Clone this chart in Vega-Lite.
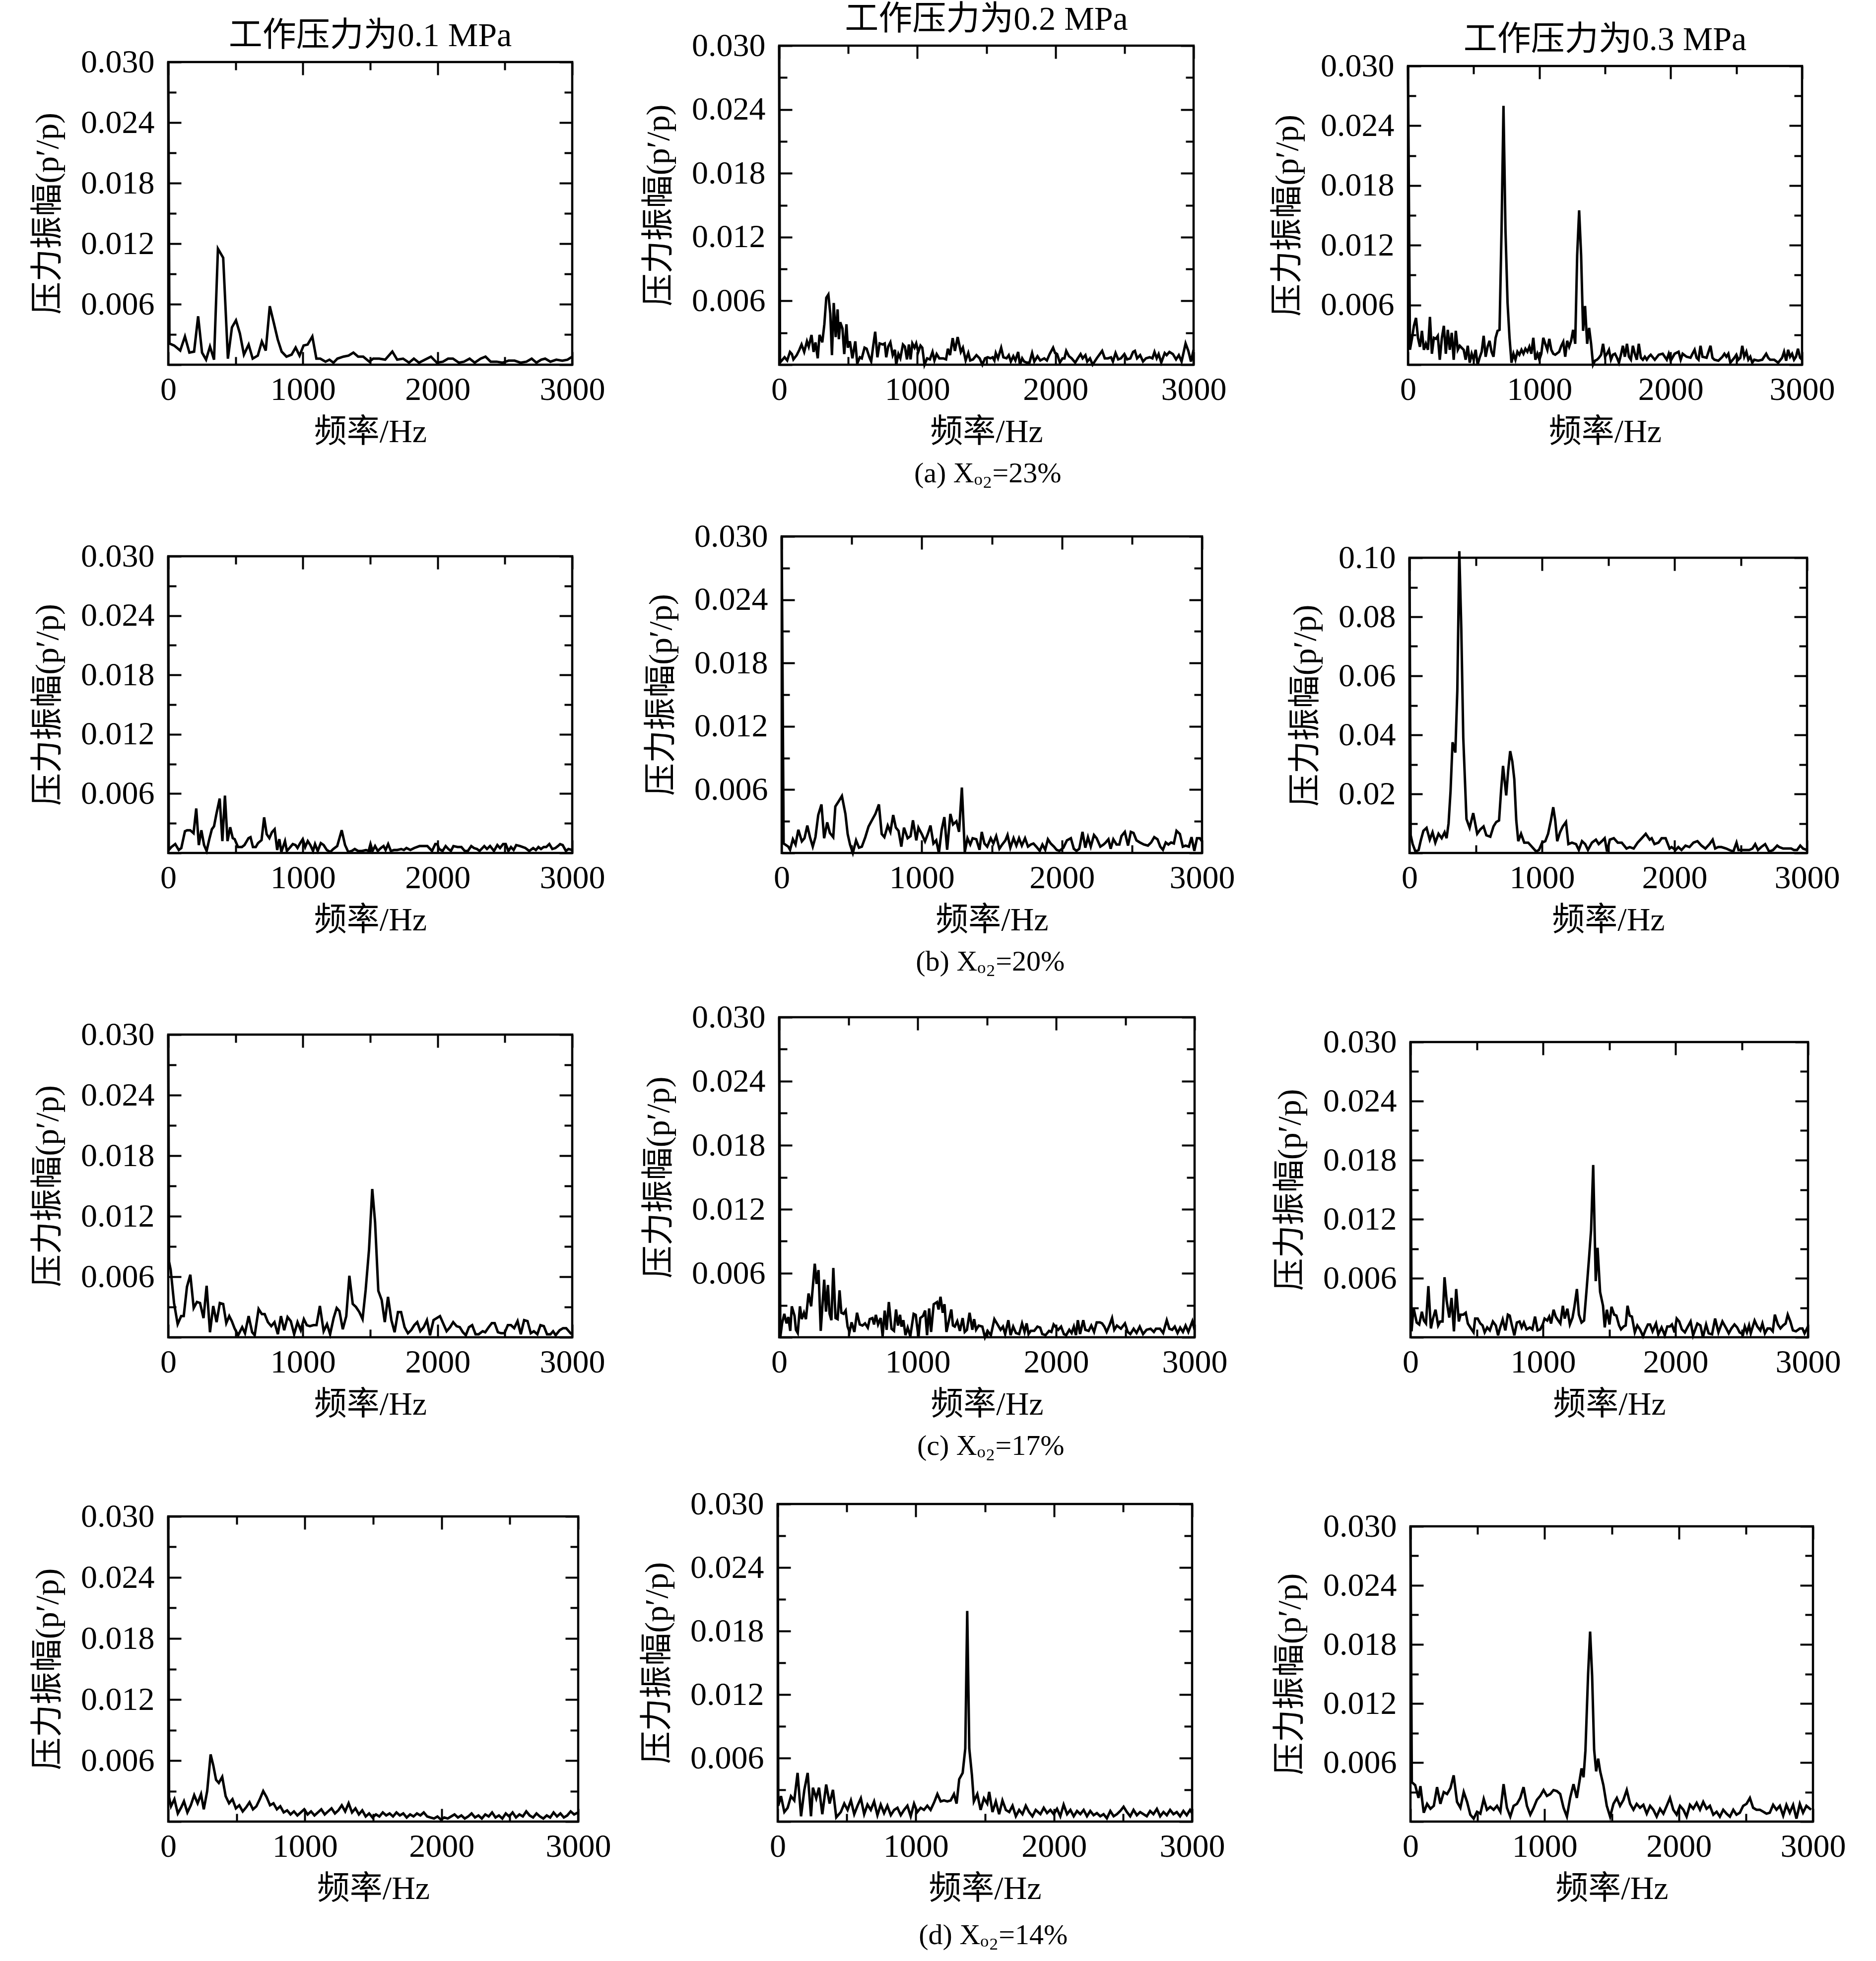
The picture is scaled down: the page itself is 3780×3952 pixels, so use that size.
{
"$schema": "https://vega.github.io/schema/vega-lite/v6.json",
"background": "white",
"padding": {"left": 61, "top": 2, "right": 0, "bottom": 0},
"datasets": {
"a1": [{"f":0,"v":0.03},{"f":9,"v":0.0021},{"f":44,"v":0.0019},{"f":89,"v":0.0014},{"f":124,"v":0.0028},{"f":157,"v":0.0012},{"f":192,"v":0.0013},{"f":222,"v":0.0048},{"f":251,"v":0.0012},{"f":281,"v":0.0005},{"f":310,"v":0.0018},{"f":340,"v":0.0005},{"f":369,"v":0.0115},{"f":408,"v":0.0106},{"f":443,"v":0.0006},{"f":473,"v":0.0037},{"f":503,"v":0.0044},{"f":532,"v":0.0031},{"f":562,"v":0.001},{"f":597,"v":0.002},{"f":627,"v":0.0006},{"f":665,"v":0.0009},{"f":695,"v":0.0023},{"f":724,"v":0.0014},{"f":754,"v":0.0058},{"f":783,"v":0.0042},{"f":813,"v":0.0025},{"f":842,"v":0.0013},{"f":878,"v":0.0008},{"f":916,"v":0.001},{"f":946,"v":0.0017},{"f":975,"v":0.0009},{"f":1005,"v":0.0019},{"f":1035,"v":0.002},{"f":1070,"v":0.0028},{"f":1100,"v":0.0006},{"f":1129,"v":0.0006},{"f":1168,"v":0.0003},{"f":1197,"v":0.0005},{"f":1227,"v":0.0002},{"f":1256,"v":0.0006},{"f":1301,"v":0.0008},{"f":1339,"v":0.0009},{"f":1375,"v":0.0012},{"f":1410,"v":0.0008},{"f":1448,"v":0.0008},{"f":1493,"v":0.0003},{"f":1522,"v":0.0006},{"f":1567,"v":0.0006},{"f":1611,"v":0.0005},{"f":1664,"v":0.0013},{"f":1700,"v":0.0005},{"f":1744,"v":0.0006},{"f":1788,"v":0.0002},{"f":1824,"v":0.0006},{"f":1862,"v":0.0002},{"f":1907,"v":0.0005},{"f":1951,"v":0.0008},{"f":1995,"v":0.0002},{"f":2040,"v":0.0003},{"f":2078,"v":0.0006},{"f":2114,"v":0.0006},{"f":2158,"v":0.0002},{"f":2196,"v":0.0003},{"f":2238,"v":0.0006},{"f":2276,"v":0.0002},{"f":2320,"v":0.0006},{"f":2356,"v":0.0008},{"f":2394,"v":0.0003},{"f":2439,"v":0.0003},{"f":2483,"v":0.0002},{"f":2527,"v":0.0004},{"f":2572,"v":0.0004},{"f":2616,"v":0.0002},{"f":2660,"v":0.0003},{"f":2699,"v":0.0006},{"f":2734,"v":0.0002},{"f":2770,"v":0.0005},{"f":2799,"v":0.0006},{"f":2838,"v":0.0003},{"f":2882,"v":0.0005},{"f":2926,"v":0.0004},{"f":2965,"v":0.0005},{"f":3000,"v":0.0008}],
"b1": [{"f":0,"v":0.03},{"f":6,"v":0.0002},{"f":39,"v":0.0007},{"f":58,"v":0.0004},{"f":78,"v":0.0012},{"f":92,"v":0.001},{"f":103,"v":0.0005},{"f":127,"v":0.0009},{"f":146,"v":0.0014},{"f":162,"v":0.0019},{"f":181,"v":0.0012},{"f":201,"v":0.0022},{"f":214,"v":0.0017},{"f":234,"v":0.0028},{"f":249,"v":0.0012},{"f":263,"v":0.0021},{"f":279,"v":0.0006},{"f":292,"v":0.0028},{"f":312,"v":0.0021},{"f":327,"v":0.0038},{"f":341,"v":0.0063},{"f":356,"v":0.0066},{"f":370,"v":0.0048},{"f":382,"v":0.0009},{"f":395,"v":0.0058},{"f":409,"v":0.0026},{"f":423,"v":0.0052},{"f":432,"v":0.0024},{"f":442,"v":0.004},{"f":458,"v":0.0034},{"f":471,"v":0.001},{"f":487,"v":0.0038},{"f":497,"v":0.0016},{"f":512,"v":0.0022},{"f":530,"v":0.0006},{"f":551,"v":0.0022},{"f":565,"v":0.0001},{"f":584,"v":0.0007},{"f":598,"v":0.0006},{"f":618,"v":0.0016},{"f":633,"v":0.0015},{"f":653,"v":0.0007},{"f":666,"v":0.0003},{"f":682,"v":0.0019},{"f":695,"v":0.0031},{"f":711,"v":0.0007},{"f":727,"v":0.002},{"f":750,"v":0.0019},{"f":764,"v":0.002},{"f":775,"v":0.0007},{"f":789,"v":0.0017},{"f":805,"v":0.0021},{"f":822,"v":0.0009},{"f":838,"v":0.0014},{"f":847,"v":0},{"f":863,"v":0.001},{"f":877,"v":0.0006},{"f":896,"v":0.0019},{"f":910,"v":0.0017},{"f":925,"v":0.0005},{"f":939,"v":0.0019},{"f":951,"v":0.0005},{"f":964,"v":0.002},{"f":980,"v":0.0016},{"f":992,"v":0.002},{"f":1007,"v":0.0012},{"f":1023,"v":0.0018},{"f":1036,"v":0.0016},{"f":1052,"v":0},{"f":1071,"v":0.0006},{"f":1091,"v":0.0005},{"f":1110,"v":0.0012},{"f":1124,"v":0.0004},{"f":1140,"v":0.001},{"f":1159,"v":0.0006},{"f":1188,"v":0.0006},{"f":1208,"v":0.0005},{"f":1221,"v":0.0015},{"f":1237,"v":0.0009},{"f":1256,"v":0.0025},{"f":1272,"v":0.0013},{"f":1292,"v":0.0026},{"f":1315,"v":0.0012},{"f":1330,"v":0.0016},{"f":1350,"v":0.0004},{"f":1369,"v":0.0011},{"f":1383,"v":0.0004},{"f":1403,"v":0.0005},{"f":1428,"v":0.0009},{"f":1451,"v":0.0006},{"f":1471,"v":0},{"f":1490,"v":0.0006},{"f":1510,"v":0.0007},{"f":1529,"v":0.0006},{"f":1545,"v":0.0007},{"f":1558,"v":0.0004},{"f":1568,"v":0.0011},{"f":1584,"v":0.0006},{"f":1607,"v":0.0016},{"f":1623,"v":0.0007},{"f":1646,"v":0.0006},{"f":1662,"v":0.0009},{"f":1677,"v":0.0003},{"f":1695,"v":0.0008},{"f":1710,"v":0.0004},{"f":1730,"v":0.0012},{"f":1743,"v":0},{"f":1759,"v":0.0006},{"f":1773,"v":0.0003},{"f":1792,"v":0.0002},{"f":1812,"v":0.0002},{"f":1831,"v":0.0011},{"f":1847,"v":0.0003},{"f":1870,"v":0.0008},{"f":1890,"v":0.0004},{"f":1919,"v":0.0006},{"f":1938,"v":0.0004},{"f":1958,"v":0.001},{"f":1983,"v":0.0016},{"f":1997,"v":0.0011},{"f":2012,"v":0.001},{"f":2032,"v":0.0002},{"f":2051,"v":0.0006},{"f":2065,"v":0.0006},{"f":2078,"v":0.0013},{"f":2098,"v":0.0008},{"f":2117,"v":0.0006},{"f":2143,"v":0.0002},{"f":2162,"v":0.0006},{"f":2182,"v":0.001},{"f":2197,"v":0.0006},{"f":2217,"v":0.0009},{"f":2230,"v":0.0003},{"f":2250,"v":0.0006},{"f":2269,"v":0},{"f":2299,"v":0.0006},{"f":2338,"v":0.0013},{"f":2357,"v":0.0006},{"f":2380,"v":0.0006},{"f":2402,"v":0.0007},{"f":2416,"v":0.0003},{"f":2435,"v":0.0011},{"f":2454,"v":0.0005},{"f":2474,"v":0.0006},{"f":2499,"v":0.001},{"f":2519,"v":0.0005},{"f":2542,"v":0.0006},{"f":2562,"v":0.0012},{"f":2575,"v":0.0013},{"f":2591,"v":0.0006},{"f":2613,"v":0.0009},{"f":2634,"v":0.0003},{"f":2655,"v":0.0006},{"f":2682,"v":0.0007},{"f":2702,"v":0.0006},{"f":2717,"v":0.0012},{"f":2733,"v":0.0006},{"f":2747,"v":0.001},{"f":2766,"v":0.0002},{"f":2791,"v":0.0011},{"f":2805,"v":0.0009},{"f":2825,"v":0.0012},{"f":2850,"v":0.001},{"f":2873,"v":0.0005},{"f":2893,"v":0.0009},{"f":2913,"v":0.0003},{"f":2942,"v":0.002},{"f":2962,"v":0.0013},{"f":2981,"v":0.0003},{"f":3000,"v":0.0014}],
"c1": [{"f":0,"v":0.03},{"f":15,"v":0.0015},{"f":30,"v":0.0026},{"f":45,"v":0.0039},{"f":61,"v":0.0047},{"f":76,"v":0.0027},{"f":91,"v":0.0018},{"f":106,"v":0.0034},{"f":121,"v":0.0015},{"f":136,"v":0.0021},{"f":152,"v":0.0015},{"f":167,"v":0.0048},{"f":182,"v":0.0011},{"f":197,"v":0.0027},{"f":212,"v":0.0026},{"f":227,"v":0.0029},{"f":242,"v":0.0005},{"f":258,"v":0.0027},{"f":273,"v":0.0039},{"f":288,"v":0.0011},{"f":303,"v":0.0035},{"f":318,"v":0.0015},{"f":333,"v":0.0032},{"f":348,"v":0.0005},{"f":364,"v":0.0034},{"f":379,"v":0.0015},{"f":394,"v":0.0019},{"f":424,"v":0.0015},{"f":439,"v":0.0005},{"f":455,"v":0.0019},{"f":470,"v":0.0002},{"f":485,"v":0.0011},{"f":500,"v":0.0005},{"f":515,"v":0.0015},{"f":530,"v":0},{"f":545,"v":0.0007},{"f":561,"v":0.0013},{"f":576,"v":0.0029},{"f":591,"v":0.0008},{"f":606,"v":0.0018},{"f":621,"v":0.0024},{"f":636,"v":0.0013},{"f":651,"v":0.0008},{"f":667,"v":0.0027},{"f":682,"v":0.0034},{"f":697,"v":0.0035},{"f":712,"v":0.0134},{"f":727,"v":0.026},{"f":742,"v":0.0136},{"f":758,"v":0.0062},{"f":773,"v":0.0027},{"f":788,"v":0.0002},{"f":803,"v":0.0011},{"f":818,"v":0.0005},{"f":833,"v":0.0013},{"f":848,"v":0.001},{"f":864,"v":0.0015},{"f":879,"v":0.0011},{"f":894,"v":0.0016},{"f":909,"v":0.0013},{"f":924,"v":0.0018},{"f":939,"v":0.0011},{"f":954,"v":0.0027},{"f":970,"v":0.0005},{"f":985,"v":0.0011},{"f":1000,"v":0.0005},{"f":1015,"v":0.0011},{"f":1030,"v":0.0027},{"f":1045,"v":0.0021},{"f":1061,"v":0.0015},{"f":1076,"v":0.0026},{"f":1091,"v":0.0015},{"f":1106,"v":0.0011},{"f":1121,"v":0.001},{"f":1151,"v":0.0013},{"f":1167,"v":0.0019},{"f":1182,"v":0.0023},{"f":1197,"v":0.0008},{"f":1212,"v":0.0024},{"f":1227,"v":0.0018},{"f":1242,"v":0.0024},{"f":1257,"v":0.0035},{"f":1273,"v":0.0021},{"f":1288,"v":0.011},{"f":1303,"v":0.0155},{"f":1318,"v":0.011},{"f":1333,"v":0.0034},{"f":1348,"v":0.0059},{"f":1364,"v":0.0021},{"f":1379,"v":0.0037},{"f":1394,"v":0.0021},{"f":1409,"v":0},{"f":1424,"v":0.0004},{"f":1439,"v":0.0005},{"f":1454,"v":0.0007},{"f":1470,"v":0.001},{"f":1485,"v":0.0021},{"f":1500,"v":0.0008},{"f":1515,"v":0.0011},{"f":1530,"v":0.0015},{"f":1545,"v":0.0005},{"f":1560,"v":0.001},{"f":1576,"v":0.0011},{"f":1591,"v":0.0007},{"f":1606,"v":0.0002},{"f":1621,"v":0.001},{"f":1636,"v":0.0019},{"f":1651,"v":0.0008},{"f":1667,"v":0.0021},{"f":1682,"v":0.0008},{"f":1697,"v":0.0005},{"f":1712,"v":0.0019},{"f":1727,"v":0.0011},{"f":1742,"v":0.0005},{"f":1757,"v":0.0021},{"f":1773,"v":0.0007},{"f":1788,"v":0.0005},{"f":1803,"v":0.0008},{"f":1818,"v":0.0005},{"f":1833,"v":0.0008},{"f":1848,"v":0.001},{"f":1879,"v":0.0005},{"f":1909,"v":0.001},{"f":1939,"v":0.0011},{"f":1970,"v":0.0005},{"f":1985,"v":0.0011},{"f":2000,"v":0.0004},{"f":2030,"v":0.0011},{"f":2060,"v":0.0013},{"f":2076,"v":0.0005},{"f":2091,"v":0.0011},{"f":2121,"v":0.0008},{"f":2151,"v":0.0007},{"f":2166,"v":0.0011},{"f":2182,"v":0.0015},{"f":2197,"v":0.0007},{"f":2212,"v":0.0005},{"f":2227,"v":0.0019},{"f":2242,"v":0.0008},{"f":2273,"v":0.0007},{"f":2303,"v":0.0019},{"f":2318,"v":0.0007},{"f":2333,"v":0.0005},{"f":2363,"v":0.0004},{"f":2394,"v":0.0008},{"f":2409,"v":0.0011},{"f":2424,"v":0.0008},{"f":2439,"v":0.0011},{"f":2454,"v":0.0002},{"f":2485,"v":0.0007},{"f":2500,"v":0.001},{"f":2515,"v":0.0005},{"f":2530,"v":0.0007},{"f":2545,"v":0.0019},{"f":2560,"v":0.0008},{"f":2576,"v":0.0013},{"f":2591,"v":0.0005},{"f":2606,"v":0.0008},{"f":2621,"v":0.0002},{"f":2636,"v":0.0005},{"f":2666,"v":0.0004},{"f":2697,"v":0.0005},{"f":2727,"v":0.0011},{"f":2742,"v":0.0007},{"f":2757,"v":0.0005},{"f":2788,"v":0.0005},{"f":2818,"v":0.0002},{"f":2848,"v":0.0007},{"f":2863,"v":0.0013},{"f":2879,"v":0.0004},{"f":2894,"v":0.0015},{"f":2909,"v":0.0008},{"f":2924,"v":0.0011},{"f":2939,"v":0.0005},{"f":2954,"v":0.0008},{"f":2969,"v":0.0016},{"f":2985,"v":0.0007},{"f":3000,"v":0.0005}],
"a2": [{"f":0,"v":0.03},{"f":4,"v":0.0003},{"f":23,"v":0.0006},{"f":52,"v":0.0009},{"f":78,"v":0.0003},{"f":97,"v":0.0005},{"f":124,"v":0.0022},{"f":140,"v":0.0023},{"f":163,"v":0.0023},{"f":188,"v":0.002},{"f":208,"v":0.0045},{"f":227,"v":0.0008},{"f":246,"v":0.0023},{"f":266,"v":0.0008},{"f":285,"v":0.0002},{"f":305,"v":0.0014},{"f":324,"v":0.0024},{"f":340,"v":0.0027},{"f":357,"v":0.0039},{"f":382,"v":0.0055},{"f":402,"v":0.0012},{"f":421,"v":0.0058},{"f":440,"v":0.0012},{"f":460,"v":0.0026},{"f":479,"v":0.0015},{"f":493,"v":0.0014},{"f":518,"v":0.0006},{"f":547,"v":0.0006},{"f":566,"v":0.0008},{"f":596,"v":0.0015},{"f":611,"v":0.0016},{"f":629,"v":0.0006},{"f":650,"v":0.0006},{"f":667,"v":0.001},{"f":693,"v":0.0013},{"f":712,"v":0.0036},{"f":731,"v":0.0019},{"f":751,"v":0.0015},{"f":770,"v":0.0021},{"f":790,"v":0.0024},{"f":809,"v":0.0003},{"f":825,"v":0.0014},{"f":840,"v":0.0001},{"f":867,"v":0.0012},{"f":881,"v":0.0002},{"f":900,"v":0.0005},{"f":925,"v":0.0009},{"f":945,"v":0.0008},{"f":960,"v":0.0005},{"f":980,"v":0.001},{"f":999,"v":0.0014},{"f":1017,"v":0.0006},{"f":1036,"v":0.0012},{"f":1055,"v":0.0008},{"f":1075,"v":0.0002},{"f":1090,"v":0.0009},{"f":1110,"v":0.0002},{"f":1133,"v":0.001},{"f":1154,"v":0.0008},{"f":1178,"v":0.0003},{"f":1203,"v":0.0001},{"f":1226,"v":0.0004},{"f":1255,"v":0.0007},{"f":1288,"v":0.0023},{"f":1313,"v":0.0008},{"f":1337,"v":0.0001},{"f":1362,"v":0.0002},{"f":1385,"v":0.0004},{"f":1410,"v":0.0002},{"f":1439,"v":0.0002},{"f":1469,"v":0.0003},{"f":1488,"v":0.0002},{"f":1502,"v":0.0009},{"f":1517,"v":0.0002},{"f":1536,"v":0.0007},{"f":1556,"v":0.0002},{"f":1579,"v":0.0005},{"f":1599,"v":0.0007},{"f":1614,"v":0.0003},{"f":1633,"v":0.0009},{"f":1653,"v":0.0002},{"f":1676,"v":0.0003},{"f":1701,"v":0.0003},{"f":1730,"v":0.0004},{"f":1750,"v":0.0003},{"f":1769,"v":0.0005},{"f":1798,"v":0.0003},{"f":1827,"v":0.0005},{"f":1866,"v":0.0007},{"f":1895,"v":0.0007},{"f":1924,"v":0.0007},{"f":1959,"v":0.0002},{"f":1983,"v":0.0009},{"f":1998,"v":0.0009},{"f":2012,"v":0.0004},{"f":2037,"v":0.0002},{"f":2060,"v":0.0007},{"f":2080,"v":0.0004},{"f":2099,"v":0.0002},{"f":2118,"v":0.0007},{"f":2148,"v":0.0006},{"f":2177,"v":0.0006},{"f":2202,"v":0.0002},{"f":2225,"v":0.0002},{"f":2250,"v":0.0007},{"f":2270,"v":0.0005},{"f":2293,"v":0.0004},{"f":2312,"v":0.0002},{"f":2347,"v":0.0007},{"f":2367,"v":0.0004},{"f":2390,"v":0.0007},{"f":2419,"v":0.0002},{"f":2444,"v":0.0008},{"f":2464,"v":0.0005},{"f":2487,"v":0.0009},{"f":2506,"v":0.0009},{"f":2526,"v":0.0002},{"f":2545,"v":0.0006},{"f":2565,"v":0.0003},{"f":2584,"v":0.0008},{"f":2613,"v":0.0007},{"f":2652,"v":0.0005},{"f":2681,"v":0.0002},{"f":2710,"v":0.0005},{"f":2730,"v":0.0003},{"f":2749,"v":0.0006},{"f":2768,"v":0.0004},{"f":2788,"v":0.0006},{"f":2807,"v":0.0006},{"f":2830,"v":0.0009},{"f":2852,"v":0.0004},{"f":2875,"v":0.0005},{"f":2894,"v":0.0007},{"f":2910,"v":0.0009},{"f":2929,"v":0.0008},{"f":2953,"v":0.0002},{"f":2972,"v":0.0004},{"f":3000,"v":0.0003}],
"b2": [{"f":0,"v":0.03},{"f":14,"v":0.0009},{"f":47,"v":0.0006},{"f":60,"v":0.0003},{"f":80,"v":0.0013},{"f":99,"v":0.0008},{"f":119,"v":0.0022},{"f":144,"v":0.0011},{"f":163,"v":0.0014},{"f":183,"v":0.0026},{"f":202,"v":0.0015},{"f":222,"v":0.0006},{"f":241,"v":0.0015},{"f":261,"v":0.0036},{"f":284,"v":0.0046},{"f":303,"v":0.0014},{"f":325,"v":0.0029},{"f":344,"v":0.0019},{"f":368,"v":0.0015},{"f":383,"v":0.0044},{"f":407,"v":0.0049},{"f":430,"v":0.0054},{"f":455,"v":0.0037},{"f":471,"v":0.0018},{"f":488,"v":0.0008},{"f":508,"v":0},{"f":531,"v":0.0012},{"f":552,"v":0.0005},{"f":572,"v":0.0006},{"f":597,"v":0.0015},{"f":620,"v":0.0025},{"f":644,"v":0.0031},{"f":669,"v":0.0037},{"f":694,"v":0.0046},{"f":714,"v":0.0018},{"f":733,"v":0.0015},{"f":757,"v":0.0026},{"f":776,"v":0.002},{"f":796,"v":0.0036},{"f":815,"v":0.0024},{"f":834,"v":0.0021},{"f":854,"v":0.0006},{"f":873,"v":0.0024},{"f":899,"v":0.0014},{"f":920,"v":0.0016},{"f":937,"v":0.0031},{"f":961,"v":0.0012},{"f":976,"v":0.0024},{"f":1000,"v":0.0018},{"f":1023,"v":0.0011},{"f":1043,"v":0.0018},{"f":1062,"v":0.0026},{"f":1083,"v":0.0009},{"f":1103,"v":0.0012},{"f":1122,"v":0},{"f":1142,"v":0.0022},{"f":1161,"v":0.0034},{"f":1181,"v":0.0003},{"f":1204,"v":0.0037},{"f":1223,"v":0.0027},{"f":1247,"v":0.003},{"f":1266,"v":0.002},{"f":1286,"v":0.0062},{"f":1307,"v":0.0001},{"f":1326,"v":0.0014},{"f":1346,"v":0.0008},{"f":1363,"v":0.0014},{"f":1389,"v":0.0013},{"f":1412,"v":0.0003},{"f":1428,"v":0.002},{"f":1447,"v":0.0009},{"f":1467,"v":0.0006},{"f":1492,"v":0.0014},{"f":1511,"v":0.0009},{"f":1531,"v":0.0016},{"f":1554,"v":0.0004},{"f":1574,"v":0.0008},{"f":1597,"v":0.0012},{"f":1612,"v":0.0017},{"f":1632,"v":0.0005},{"f":1655,"v":0.0014},{"f":1675,"v":0.0007},{"f":1694,"v":0.0014},{"f":1714,"v":0.0007},{"f":1737,"v":0.0014},{"f":1758,"v":0.0006},{"f":1778,"v":0.0008},{"f":1797,"v":0.0009},{"f":1817,"v":0.0006},{"f":1842,"v":0.0002},{"f":1861,"v":0.0008},{"f":1881,"v":0.0003},{"f":1900,"v":0.0013},{"f":1920,"v":0.0009},{"f":1943,"v":0.0006},{"f":1962,"v":0.0003},{"f":1982,"v":0.0002},{"f":2011,"v":0.0005},{"f":2036,"v":0.0012},{"f":2064,"v":0.0014},{"f":2085,"v":0.0004},{"f":2104,"v":0.0002},{"f":2124,"v":0.0004},{"f":2147,"v":0.002},{"f":2167,"v":0.0005},{"f":2186,"v":0.0015},{"f":2206,"v":0.0006},{"f":2229,"v":0.0017},{"f":2248,"v":0.0014},{"f":2274,"v":0.0006},{"f":2297,"v":0.0008},{"f":2313,"v":0.001},{"f":2332,"v":0.0013},{"f":2348,"v":0.0004},{"f":2367,"v":0.0013},{"f":2390,"v":0.0008},{"f":2410,"v":0.0008},{"f":2425,"v":0.0016},{"f":2449,"v":0.002},{"f":2472,"v":0.0007},{"f":2492,"v":0.002},{"f":2511,"v":0.0019},{"f":2532,"v":0.0012},{"f":2556,"v":0.001},{"f":2585,"v":0.0008},{"f":2614,"v":0.0007},{"f":2637,"v":0.001},{"f":2659,"v":0.0015},{"f":2682,"v":0.0013},{"f":2702,"v":0.0006},{"f":2721,"v":0.0003},{"f":2741,"v":0.001},{"f":2760,"v":0.0008},{"f":2779,"v":0.001},{"f":2799,"v":0.0009},{"f":2818,"v":0.0021},{"f":2842,"v":0.0018},{"f":2863,"v":0.0006},{"f":2882,"v":0.0007},{"f":2906,"v":0.0006},{"f":2925,"v":0.0015},{"f":2945,"v":0.0002},{"f":2964,"v":0.0014},{"f":2984,"v":0.0014},{"f":3000,"v":0.0011}],
"c2": [{"f":0,"v":0.1},{"f":9,"v":0.006},{"f":24,"v":0.003},{"f":45,"v":0.0005},{"f":69,"v":0.001},{"f":84,"v":0.004},{"f":105,"v":0.0075},{"f":129,"v":0.0085},{"f":153,"v":0.0045},{"f":174,"v":0.007},{"f":195,"v":0.0035},{"f":219,"v":0.0065},{"f":243,"v":0.005},{"f":265,"v":0.007},{"f":280,"v":0.005},{"f":295,"v":0.01},{"f":310,"v":0.021},{"f":325,"v":0.0375},{"f":346,"v":0.034},{"f":361,"v":0.055},{"f":376,"v":0.1022},{"f":391,"v":0.076},{"f":406,"v":0.039},{"f":430,"v":0.0115},{"f":454,"v":0.0085},{"f":481,"v":0.0135},{"f":511,"v":0.0065},{"f":535,"v":0.008},{"f":559,"v":0.009},{"f":580,"v":0.006},{"f":610,"v":0.0055},{"f":634,"v":0.009},{"f":655,"v":0.0105},{"f":676,"v":0.011},{"f":691,"v":0.021},{"f":706,"v":0.0295},{"f":730,"v":0.0195},{"f":745,"v":0.028},{"f":760,"v":0.0345},{"f":776,"v":0.031},{"f":791,"v":0.025},{"f":806,"v":0.011},{"f":821,"v":0.004},{"f":842,"v":0.0065},{"f":866,"v":0.0035},{"f":896,"v":0.0035},{"f":926,"v":0.002},{"f":956,"v":0.0005},{"f":977,"v":0.001},{"f":1001,"v":0.0035},{"f":1025,"v":0.004},{"f":1046,"v":0.0065},{"f":1067,"v":0.011},{"f":1085,"v":0.0155},{"f":1100,"v":0.011},{"f":1115,"v":0.004},{"f":1136,"v":0.007},{"f":1157,"v":0.009},{"f":1181,"v":0.0105},{"f":1199,"v":0.003},{"f":1226,"v":0.0035},{"f":1257,"v":0.003},{"f":1278,"v":0.001},{"f":1302,"v":0.004},{"f":1326,"v":0.003},{"f":1347,"v":0.001},{"f":1377,"v":0.0035},{"f":1407,"v":0.0045},{"f":1428,"v":0.003},{"f":1452,"v":0.004},{"f":1473,"v":0.005},{"f":1491,"v":0.0005},{"f":1512,"v":0.0045},{"f":1542,"v":0.005},{"f":1572,"v":0.0035},{"f":1602,"v":0.0035},{"f":1638,"v":0.0015},{"f":1662,"v":0.002},{"f":1692,"v":0.0015},{"f":1722,"v":0.0035},{"f":1753,"v":0.005},{"f":1783,"v":0.0065},{"f":1813,"v":0.0045},{"f":1828,"v":0.005},{"f":1849,"v":0.003},{"f":1879,"v":0.0035},{"f":1903,"v":0.005},{"f":1933,"v":0.005},{"f":1963,"v":0.0015},{"f":1978,"v":0.002},{"f":2008,"v":0.001},{"f":2029,"v":0.002},{"f":2053,"v":0.001},{"f":2083,"v":0.0025},{"f":2113,"v":0.002},{"f":2143,"v":0.0035},{"f":2173,"v":0.004},{"f":2203,"v":0.0025},{"f":2233,"v":0.0015},{"f":2264,"v":0.003},{"f":2288,"v":0.0045},{"f":2307,"v":0.0015},{"f":2330,"v":0.002},{"f":2354,"v":0.002},{"f":2390,"v":0.0015},{"f":2414,"v":0.001},{"f":2444,"v":0.0005},{"f":2468,"v":0.0035},{"f":2483,"v":0.001},{"f":2504,"v":0.001},{"f":2534,"v":0.001},{"f":2564,"v":0.001},{"f":2588,"v":0.0015},{"f":2609,"v":0.003},{"f":2630,"v":0.001},{"f":2654,"v":0.002},{"f":2684,"v":0.003},{"f":2714,"v":0.0005},{"f":2744,"v":0.001},{"f":2775,"v":0.0025},{"f":2790,"v":0.002},{"f":2820,"v":0.0015},{"f":2850,"v":0.0015},{"f":2880,"v":0.0015},{"f":2901,"v":0.001},{"f":2925,"v":0.001},{"f":2949,"v":0.0025},{"f":2970,"v":0.0015},{"f":3000,"v":0.001}],
"a3": [{"f":0,"v":0.03},{"f":6,"v":0.0075},{"f":18,"v":0.0067},{"f":43,"v":0.0034},{"f":70,"v":0.0013},{"f":96,"v":0.0021},{"f":115,"v":0.0021},{"f":139,"v":0.005},{"f":164,"v":0.0062},{"f":189,"v":0.0029},{"f":213,"v":0.0035},{"f":236,"v":0.0034},{"f":262,"v":0.0019},{"f":285,"v":0.0051},{"f":310,"v":0.0005},{"f":334,"v":0.0031},{"f":359,"v":0.0015},{"f":383,"v":0.0034},{"f":408,"v":0.0033},{"f":431,"v":0.0014},{"f":453,"v":0.0021},{"f":472,"v":0.0016},{"f":492,"v":0.0009},{"f":519,"v":0.0002},{"f":549,"v":0.001},{"f":570,"v":0.0004},{"f":597,"v":0.0021},{"f":623,"v":0.0005},{"f":642,"v":0.0002},{"f":671,"v":0.0028},{"f":695,"v":0.0023},{"f":716,"v":0.0023},{"f":740,"v":0.0015},{"f":765,"v":0.0011},{"f":789,"v":0.0015},{"f":814,"v":0.0003},{"f":837,"v":0.0021},{"f":861,"v":0.0007},{"f":886,"v":0.002},{"f":910,"v":0.0016},{"f":935,"v":0.0003},{"f":960,"v":0.0015},{"f":984,"v":0.0007},{"f":1007,"v":0.0018},{"f":1029,"v":0.0012},{"f":1052,"v":0.0011},{"f":1078,"v":0.0012},{"f":1101,"v":0.0012},{"f":1126,"v":0.0031},{"f":1154,"v":0.0006},{"f":1179,"v":0.0013},{"f":1202,"v":0.0003},{"f":1228,"v":0.0019},{"f":1251,"v":0.0029},{"f":1271,"v":0.0026},{"f":1296,"v":0.0008},{"f":1322,"v":0.0021},{"f":1345,"v":0.0061},{"f":1370,"v":0.0033},{"f":1394,"v":0.003},{"f":1419,"v":0.0025},{"f":1443,"v":0.0018},{"f":1466,"v":0.0047},{"f":1491,"v":0.0087},{"f":1515,"v":0.0147},{"f":1536,"v":0.0114},{"f":1560,"v":0.0046},{"f":1585,"v":0.0037},{"f":1608,"v":0.0015},{"f":1632,"v":0.004},{"f":1657,"v":0.0017},{"f":1681,"v":0.0005},{"f":1706,"v":0.0025},{"f":1729,"v":0.0025},{"f":1755,"v":0.001},{"f":1780,"v":0.0004},{"f":1804,"v":0.0007},{"f":1827,"v":0.0012},{"f":1849,"v":0.0015},{"f":1872,"v":0.0006},{"f":1897,"v":0.001},{"f":1921,"v":0.0017},{"f":1944,"v":0.0002},{"f":1970,"v":0.0017},{"f":2018,"v":0.0021},{"f":2067,"v":0.0006},{"f":2093,"v":0.001},{"f":2116,"v":0.0015},{"f":2141,"v":0.0011},{"f":2165,"v":0.001},{"f":2188,"v":0.0005},{"f":2210,"v":0.0002},{"f":2233,"v":0.001},{"f":2257,"v":0.0012},{"f":2282,"v":0.0003},{"f":2305,"v":0.0003},{"f":2335,"v":0.0006},{"f":2354,"v":0.0005},{"f":2380,"v":0.001},{"f":2403,"v":0.0014},{"f":2424,"v":0.0014},{"f":2448,"v":0.0005},{"f":2471,"v":0.0004},{"f":2497,"v":0.0004},{"f":2522,"v":0.0012},{"f":2545,"v":0.0012},{"f":2569,"v":0.0009},{"f":2594,"v":0.0016},{"f":2618,"v":0.0003},{"f":2643,"v":0.0017},{"f":2668,"v":0.0016},{"f":2692,"v":0.0004},{"f":2715,"v":0.0006},{"f":2741,"v":0.0003},{"f":2764,"v":0.0012},{"f":2789,"v":0.0011},{"f":2813,"v":0.0003},{"f":2838,"v":0.0003},{"f":2858,"v":0.0006},{"f":2877,"v":0.0002},{"f":2907,"v":0.0007},{"f":2932,"v":0.0009},{"f":2955,"v":0.0009},{"f":2994,"v":0.0003}],
"b3": [{"f":0,"v":0.03},{"f":8,"v":0},{"f":21,"v":0.0013},{"f":37,"v":0.0022},{"f":53,"v":0.0013},{"f":66,"v":0.0019},{"f":80,"v":0.0006},{"f":91,"v":0.0029},{"f":111,"v":0.002},{"f":121,"v":0.0007},{"f":134,"v":0.0004},{"f":150,"v":0.0029},{"f":163,"v":0.0017},{"f":179,"v":0.0023},{"f":193,"v":0.0017},{"f":212,"v":0.0041},{"f":231,"v":0.0029},{"f":257,"v":0.0069},{"f":270,"v":0.005},{"f":284,"v":0.0063},{"f":300,"v":0.0006},{"f":325,"v":0.0054},{"f":338,"v":0.0024},{"f":352,"v":0.0049},{"f":364,"v":0.0022},{"f":377,"v":0.0016},{"f":391,"v":0.0065},{"f":407,"v":0.0018},{"f":422,"v":0.0017},{"f":436,"v":0.0044},{"f":449,"v":0.0023},{"f":465,"v":0.0022},{"f":480,"v":0.0025},{"f":494,"v":0.001},{"f":508,"v":0.0005},{"f":523,"v":0.0014},{"f":543,"v":0.0005},{"f":562,"v":0.0023},{"f":582,"v":0.0012},{"f":601,"v":0.0011},{"f":620,"v":0.0013},{"f":640,"v":0.0009},{"f":654,"v":0.0017},{"f":673,"v":0.0018},{"f":685,"v":0.0012},{"f":698,"v":0.0021},{"f":714,"v":0.0012},{"f":733,"v":0.0018},{"f":747,"v":0.0001},{"f":762,"v":0.0025},{"f":776,"v":0.0007},{"f":792,"v":0.0033},{"f":811,"v":0.0008},{"f":829,"v":0.0006},{"f":844,"v":0.0026},{"f":858,"v":0.0011},{"f":873,"v":0.0021},{"f":883,"v":0.001},{"f":897,"v":0.0016},{"f":912,"v":0.0002},{"f":928,"v":0.0009},{"f":947,"v":0.0001},{"f":971,"v":0.0022},{"f":986,"v":0.0021},{"f":1006,"v":0},{"f":1019,"v":0.0018},{"f":1039,"v":0.002},{"f":1054,"v":0.0025},{"f":1068,"v":0.0002},{"f":1083,"v":0.0027},{"f":1097,"v":0.0005},{"f":1116,"v":0.0031},{"f":1140,"v":0.0033},{"f":1151,"v":0.0026},{"f":1165,"v":0.0038},{"f":1181,"v":0.0023},{"f":1194,"v":0.0031},{"f":1208,"v":0.0005},{"f":1223,"v":0.0014},{"f":1243,"v":0.0026},{"f":1255,"v":0.0011},{"f":1268,"v":0.001},{"f":1286,"v":0.0015},{"f":1305,"v":0.0006},{"f":1325,"v":0.0018},{"f":1340,"v":0.0005},{"f":1356,"v":0.0007},{"f":1375,"v":0.0023},{"f":1395,"v":0.0007},{"f":1408,"v":0.0017},{"f":1422,"v":0.0007},{"f":1441,"v":0.0011},{"f":1467,"v":0.001},{"f":1486,"v":0},{"f":1505,"v":0.0006},{"f":1529,"v":0.0002},{"f":1554,"v":0.0017},{"f":1577,"v":0.0012},{"f":1599,"v":0.0007},{"f":1616,"v":0.001},{"f":1632,"v":0.0003},{"f":1655,"v":0.0016},{"f":1671,"v":0.0002},{"f":1690,"v":0.001},{"f":1710,"v":0.0004},{"f":1733,"v":0.0003},{"f":1754,"v":0.0013},{"f":1772,"v":0.0005},{"f":1787,"v":0.0013},{"f":1801,"v":0.0003},{"f":1817,"v":0.0006},{"f":1842,"v":0.0006},{"f":1865,"v":0.001},{"f":1885,"v":0.0009},{"f":1900,"v":0.0003},{"f":1924,"v":0.0002},{"f":1949,"v":0.0006},{"f":1966,"v":0.0005},{"f":1982,"v":0.0012},{"f":2001,"v":0.0009},{"f":2015,"v":0.0007},{"f":2036,"v":0.001},{"f":2056,"v":0.0003},{"f":2073,"v":0.0002},{"f":2095,"v":0.0007},{"f":2112,"v":0.0004},{"f":2128,"v":0.001},{"f":2143,"v":0.0002},{"f":2157,"v":0.0016},{"f":2173,"v":0.0003},{"f":2196,"v":0.0016},{"f":2211,"v":0.0007},{"f":2235,"v":0.0006},{"f":2254,"v":0.0011},{"f":2274,"v":0.0005},{"f":2293,"v":0.0014},{"f":2316,"v":0.0014},{"f":2332,"v":0.0013},{"f":2348,"v":0.001},{"f":2365,"v":0.0005},{"f":2385,"v":0.0011},{"f":2404,"v":0.0018},{"f":2420,"v":0.0007},{"f":2439,"v":0.0011},{"f":2468,"v":0.0008},{"f":2497,"v":0.0013},{"f":2517,"v":0.0005},{"f":2536,"v":0.0003},{"f":2560,"v":0.0008},{"f":2581,"v":0.0004},{"f":2604,"v":0.001},{"f":2628,"v":0.0003},{"f":2653,"v":0.0007},{"f":2682,"v":0.0008},{"f":2706,"v":0.0005},{"f":2721,"v":0.0008},{"f":2750,"v":0.0008},{"f":2773,"v":0.0004},{"f":2799,"v":0.0016},{"f":2818,"v":0.0008},{"f":2838,"v":0.0007},{"f":2857,"v":0.001},{"f":2877,"v":0.0004},{"f":2896,"v":0.0009},{"f":2916,"v":0.0005},{"f":2935,"v":0.0011},{"f":2955,"v":0.0005},{"f":2984,"v":0.0015},{"f":3000,"v":0.0007}],
"c3": [{"f":0,"v":0.03},{"f":8,"v":0.0006},{"f":23,"v":0.003},{"f":39,"v":0.002},{"f":47,"v":0.0015},{"f":66,"v":0.0013},{"f":86,"v":0.0026},{"f":101,"v":0.0017},{"f":117,"v":0.0014},{"f":135,"v":0.0052},{"f":154,"v":0.0009},{"f":170,"v":0.0019},{"f":189,"v":0.0028},{"f":209,"v":0.0012},{"f":224,"v":0.0016},{"f":242,"v":0.0016},{"f":257,"v":0.0061},{"f":273,"v":0.0037},{"f":293,"v":0.002},{"f":310,"v":0.004},{"f":328,"v":0.0006},{"f":345,"v":0.0049},{"f":365,"v":0.0016},{"f":378,"v":0.0023},{"f":398,"v":0.0023},{"f":417,"v":0.0025},{"f":433,"v":0.0014},{"f":456,"v":0.0009},{"f":476,"v":0.0005},{"f":488,"v":0.0019},{"f":507,"v":0.0019},{"f":527,"v":0.0014},{"f":544,"v":0.0012},{"f":560,"v":0.0005},{"f":579,"v":0.001},{"f":599,"v":0.0007},{"f":622,"v":0.0016},{"f":644,"v":0.0012},{"f":661,"v":0.0002},{"f":677,"v":0.001},{"f":696,"v":0.0018},{"f":716,"v":0.0007},{"f":735,"v":0.0023},{"f":749,"v":0.0022},{"f":764,"v":0.0013},{"f":784,"v":0.0002},{"f":803,"v":0.0015},{"f":823,"v":0.0016},{"f":839,"v":0.001},{"f":856,"v":0.0015},{"f":876,"v":0.0008},{"f":901,"v":0.001},{"f":920,"v":0.0008},{"f":940,"v":0.0021},{"f":959,"v":0.0007},{"f":979,"v":0.0008},{"f":998,"v":0.0013},{"f":1012,"v":0.0019},{"f":1032,"v":0.0017},{"f":1047,"v":0.0021},{"f":1061,"v":0.0014},{"f":1080,"v":0.0028},{"f":1096,"v":0.0021},{"f":1115,"v":0.0017},{"f":1131,"v":0.0014},{"f":1150,"v":0.0032},{"f":1164,"v":0.0019},{"f":1184,"v":0.0029},{"f":1203,"v":0.0013},{"f":1223,"v":0.002},{"f":1236,"v":0.003},{"f":1256,"v":0.0049},{"f":1271,"v":0.0023},{"f":1291,"v":0.0015},{"f":1310,"v":0.0017},{"f":1330,"v":0.005},{"f":1349,"v":0.0083},{"f":1363,"v":0.0109},{"f":1379,"v":0.0175},{"f":1398,"v":0.0057},{"f":1412,"v":0.0091},{"f":1431,"v":0.0046},{"f":1453,"v":0.0032},{"f":1466,"v":0.001},{"f":1482,"v":0.0028},{"f":1502,"v":0.0013},{"f":1517,"v":0.0031},{"f":1537,"v":0.0023},{"f":1554,"v":0.0022},{"f":1574,"v":0.0012},{"f":1589,"v":0.0008},{"f":1609,"v":0.0011},{"f":1624,"v":0.0012},{"f":1638,"v":0.0032},{"f":1654,"v":0.0022},{"f":1671,"v":0.0021},{"f":1693,"v":0.0005},{"f":1712,"v":0.0012},{"f":1732,"v":0.0008},{"f":1755,"v":0.0001},{"f":1775,"v":0.0008},{"f":1792,"v":0.0013},{"f":1808,"v":0.0013},{"f":1827,"v":0.0006},{"f":1853,"v":0.0014},{"f":1870,"v":0.0003},{"f":1895,"v":0.001},{"f":1919,"v":0.0002},{"f":1938,"v":0.0011},{"f":1958,"v":0.0011},{"f":1973,"v":0.0013},{"f":1993,"v":0.0005},{"f":2009,"v":0.0019},{"f":2028,"v":0.0016},{"f":2048,"v":0.0008},{"f":2071,"v":0.0005},{"f":2090,"v":0.001},{"f":2114,"v":0.0016},{"f":2133,"v":0.0002},{"f":2165,"v":0.0014},{"f":2188,"v":0.0012},{"f":2207,"v":0},{"f":2231,"v":0.0013},{"f":2250,"v":0.0004},{"f":2276,"v":0.0003},{"f":2299,"v":0.0019},{"f":2324,"v":0.0005},{"f":2354,"v":0.0016},{"f":2383,"v":0.0009},{"f":2402,"v":0.0004},{"f":2422,"v":0.0009},{"f":2445,"v":0.0013},{"f":2465,"v":0.001},{"f":2484,"v":0.0005},{"f":2510,"v":0.0003},{"f":2523,"v":0.0011},{"f":2539,"v":0.0005},{"f":2555,"v":0.0012},{"f":2568,"v":0.0004},{"f":2597,"v":0.0017},{"f":2617,"v":0.0011},{"f":2640,"v":0.0007},{"f":2656,"v":0.0014},{"f":2675,"v":0.0004},{"f":2695,"v":0.0009},{"f":2714,"v":0.0009},{"f":2734,"v":0.0006},{"f":2750,"v":0.0023},{"f":2773,"v":0.0013},{"f":2792,"v":0.0009},{"f":2812,"v":0.0012},{"f":2831,"v":0.0014},{"f":2847,"v":0.0023},{"f":2867,"v":0.0016},{"f":2886,"v":0.0007},{"f":2909,"v":0.0006},{"f":2939,"v":0.0009},{"f":2958,"v":0.0009},{"f":2974,"v":0.0004},{"f":3000,"v":0.0011}],
"a4": [{"f":0,"v":0.03},{"f":6,"v":0.0024},{"f":20,"v":0.0015},{"f":45,"v":0.0022},{"f":70,"v":0.0008},{"f":95,"v":0.0014},{"f":115,"v":0.002},{"f":140,"v":0.0009},{"f":165,"v":0.0016},{"f":190,"v":0.0026},{"f":215,"v":0.0018},{"f":240,"v":0.0027},{"f":260,"v":0.0012},{"f":285,"v":0.003},{"f":310,"v":0.0066},{"f":330,"v":0.0055},{"f":350,"v":0.0041},{"f":370,"v":0.0038},{"f":395,"v":0.0044},{"f":420,"v":0.0025},{"f":445,"v":0.0018},{"f":470,"v":0.0022},{"f":495,"v":0.0013},{"f":520,"v":0.0016},{"f":545,"v":0.001},{"f":570,"v":0.0014},{"f":595,"v":0.0019},{"f":620,"v":0.0012},{"f":645,"v":0.0015},{"f":670,"v":0.0022},{"f":695,"v":0.003},{"f":720,"v":0.0024},{"f":745,"v":0.0016},{"f":770,"v":0.0018},{"f":795,"v":0.0012},{"f":820,"v":0.0015},{"f":845,"v":0.0009},{"f":870,"v":0.0011},{"f":895,"v":0.0007},{"f":920,"v":0.001},{"f":945,"v":0.0006},{"f":970,"v":0.0009},{"f":995,"v":0.0012},{"f":1020,"v":0.0007},{"f":1045,"v":0.001},{"f":1070,"v":0.0006},{"f":1095,"v":0.0009},{"f":1120,"v":0.0012},{"f":1145,"v":0.0007},{"f":1170,"v":0.001},{"f":1195,"v":0.0013},{"f":1220,"v":0.0008},{"f":1245,"v":0.0011},{"f":1270,"v":0.0016},{"f":1295,"v":0.001},{"f":1320,"v":0.0018},{"f":1345,"v":0.0009},{"f":1370,"v":0.0013},{"f":1395,"v":0.0007},{"f":1420,"v":0.0011},{"f":1445,"v":0.0005},{"f":1470,"v":0.0008},{"f":1495,"v":0.0004},{"f":1520,"v":0.0007},{"f":1545,"v":0.0005},{"f":1570,"v":0.0009},{"f":1595,"v":0.0006},{"f":1620,"v":0.0008},{"f":1645,"v":0.0005},{"f":1670,"v":0.0009},{"f":1695,"v":0.0006},{"f":1720,"v":0.0008},{"f":1745,"v":0.0004},{"f":1770,"v":0.0007},{"f":1795,"v":0.0005},{"f":1820,"v":0.0008},{"f":1845,"v":0.0006},{"f":1870,"v":0.0009},{"f":1895,"v":0.0005},{"f":1920,"v":0.0004},{"f":1945,"v":0.0003},{"f":1970,"v":0.0005},{"f":1995,"v":0.0002},{"f":2020,"v":0.0004},{"f":2045,"v":0.0003},{"f":2070,"v":0.0005},{"f":2095,"v":0.0007},{"f":2120,"v":0.0004},{"f":2145,"v":0.0006},{"f":2170,"v":0.0003},{"f":2195,"v":0.0005},{"f":2220,"v":0.0008},{"f":2245,"v":0.0004},{"f":2270,"v":0.0006},{"f":2295,"v":0.0003},{"f":2320,"v":0.0007},{"f":2345,"v":0.0005},{"f":2370,"v":0.0009},{"f":2395,"v":0.0004},{"f":2420,"v":0.0006},{"f":2445,"v":0.0003},{"f":2470,"v":0.0008},{"f":2495,"v":0.0005},{"f":2520,"v":0.0009},{"f":2545,"v":0.0004},{"f":2570,"v":0.0007},{"f":2595,"v":0.0005},{"f":2620,"v":0.001},{"f":2645,"v":0.0006},{"f":2670,"v":0.0004},{"f":2695,"v":0.0008},{"f":2720,"v":0.0005},{"f":2745,"v":0.0003},{"f":2770,"v":0.0006},{"f":2795,"v":0.0004},{"f":2820,"v":0.0009},{"f":2845,"v":0.0005},{"f":2870,"v":0.0008},{"f":2895,"v":0.0004},{"f":2920,"v":0.0006},{"f":2945,"v":0.001},{"f":2970,"v":0.0007},{"f":3000,"v":0.0009}],
"b4": [{"f":0,"v":0.03},{"f":4,"v":0.0015},{"f":24,"v":0.0024},{"f":48,"v":0.0009},{"f":72,"v":0.0013},{"f":96,"v":0.0024},{"f":120,"v":0.002},{"f":144,"v":0.0046},{"f":169,"v":0.0005},{"f":193,"v":0.003},{"f":217,"v":0.0046},{"f":241,"v":0.0005},{"f":255,"v":0.0032},{"f":279,"v":0.0022},{"f":299,"v":0.0032},{"f":323,"v":0.0007},{"f":351,"v":0.0035},{"f":376,"v":0.0017},{"f":400,"v":0.003},{"f":424,"v":0.0004},{"f":457,"v":0.0009},{"f":482,"v":0.0017},{"f":506,"v":0.0011},{"f":530,"v":0.002},{"f":554,"v":0.0007},{"f":578,"v":0.0015},{"f":602,"v":0.0022},{"f":626,"v":0.0007},{"f":650,"v":0.0016},{"f":674,"v":0.0011},{"f":698,"v":0.0019},{"f":722,"v":0.0006},{"f":746,"v":0.0016},{"f":770,"v":0.0008},{"f":794,"v":0.0015},{"f":819,"v":0.0006},{"f":843,"v":0.0011},{"f":867,"v":0.0013},{"f":891,"v":0.0006},{"f":915,"v":0.0011},{"f":939,"v":0.0015},{"f":963,"v":0.0005},{"f":987,"v":0.0017},{"f":1011,"v":0.0009},{"f":1035,"v":0.0013},{"f":1059,"v":0.0011},{"f":1083,"v":0.0015},{"f":1107,"v":0.0011},{"f":1132,"v":0.0018},{"f":1156,"v":0.0026},{"f":1180,"v":0.0019},{"f":1204,"v":0.002},{"f":1228,"v":0.0019},{"f":1252,"v":0.002},{"f":1276,"v":0.0026},{"f":1295,"v":0.0017},{"f":1314,"v":0.004},{"f":1339,"v":0.0046},{"f":1358,"v":0.0069},{"f":1372,"v":0.0199},{"f":1387,"v":0.0069},{"f":1406,"v":0.0044},{"f":1420,"v":0.0019},{"f":1445,"v":0.0026},{"f":1469,"v":0.0011},{"f":1493,"v":0.0022},{"f":1517,"v":0.0017},{"f":1531,"v":0.0028},{"f":1555,"v":0.0009},{"f":1579,"v":0.0019},{"f":1603,"v":0.0007},{"f":1627,"v":0.002},{"f":1652,"v":0.0011},{"f":1676,"v":0.0009},{"f":1700,"v":0.0015},{"f":1724,"v":0.0005},{"f":1748,"v":0.0011},{"f":1772,"v":0.0007},{"f":1796,"v":0.0015},{"f":1820,"v":0.0009},{"f":1844,"v":0.0005},{"f":1868,"v":0.0011},{"f":1902,"v":0.0007},{"f":1926,"v":0.0013},{"f":1950,"v":0.0008},{"f":1974,"v":0.0011},{"f":1998,"v":0.0007},{"f":2022,"v":0.0012},{"f":2046,"v":0.0005},{"f":2070,"v":0.0016},{"f":2095,"v":0.0007},{"f":2119,"v":0.0011},{"f":2143,"v":0.0005},{"f":2167,"v":0.001},{"f":2191,"v":0.0007},{"f":2215,"v":0.0011},{"f":2239,"v":0.0005},{"f":2263,"v":0.001},{"f":2287,"v":0.0006},{"f":2311,"v":0.0008},{"f":2335,"v":0.0005},{"f":2359,"v":0.0007},{"f":2383,"v":0.0003},{"f":2408,"v":0.001},{"f":2432,"v":0.0005},{"f":2456,"v":0.0007},{"f":2480,"v":0.001},{"f":2504,"v":0.0014},{"f":2528,"v":0.0009},{"f":2552,"v":0.0005},{"f":2576,"v":0.0011},{"f":2600,"v":0.0006},{"f":2624,"v":0.0009},{"f":2648,"v":0.0007},{"f":2672,"v":0.0005},{"f":2696,"v":0.001},{"f":2720,"v":0.0007},{"f":2745,"v":0.0012},{"f":2769,"v":0.0005},{"f":2793,"v":0.0009},{"f":2817,"v":0.0006},{"f":2841,"v":0.0011},{"f":2865,"v":0.0007},{"f":2889,"v":0.0009},{"f":2913,"v":0.0005},{"f":2937,"v":0.001},{"f":2961,"v":0.0006},{"f":2985,"v":0.0011},{"f":3000,"v":0.0008}],
"c4": [{"f":0,"v":0.03},{"f":10,"v":0.004},{"f":35,"v":0.0037},{"f":60,"v":0.0024},{"f":74,"v":0.0036},{"f":99,"v":0.0009},{"f":124,"v":0.0018},{"f":149,"v":0.0013},{"f":174,"v":0.0016},{"f":198,"v":0.0035},{"f":223,"v":0.0018},{"f":248,"v":0.003},{"f":273,"v":0.0028},{"f":298,"v":0.0034},{"f":322,"v":0.0047},{"f":347,"v":0.002},{"f":372,"v":0.0014},{"f":397,"v":0.003},{"f":422,"v":0.002},{"f":446,"v":0.0007},{"f":471,"v":0.0003},{"f":496,"v":0.001},{"f":521,"v":0.0008},{"f":546,"v":0.0023},{"f":570,"v":0.0012},{"f":595,"v":0.0015},{"f":620,"v":0.0012},{"f":645,"v":0.0016},{"f":670,"v":0.001},{"f":694,"v":0.0038},{"f":719,"v":0.0014},{"f":744,"v":0.0005},{"f":769,"v":0.0016},{"f":794,"v":0.0018},{"f":818,"v":0.0024},{"f":843,"v":0.0035},{"f":868,"v":0.0016},{"f":893,"v":0.0007},{"f":918,"v":0.0014},{"f":942,"v":0.0022},{"f":967,"v":0.0026},{"f":992,"v":0.0032},{"f":1017,"v":0.0026},{"f":1042,"v":0.0028},{"f":1066,"v":0.0032},{"f":1091,"v":0.0031},{"f":1116,"v":0.0028},{"f":1141,"v":0.0014},{"f":1166,"v":0.0005},{"f":1190,"v":0.0024},{"f":1215,"v":0.0038},{"f":1240,"v":0.0024},{"f":1255,"v":0.0037},{"f":1275,"v":0.0054},{"f":1290,"v":0.0045},{"f":1304,"v":0.0072},{"f":1324,"v":0.015},{"f":1339,"v":0.0193},{"f":1354,"v":0.0148},{"f":1369,"v":0.0073},{"f":1384,"v":0.0051},{"f":1399,"v":0.0064},{"f":1414,"v":0.0051},{"f":1438,"v":0.0037},{"f":1463,"v":0.0016},{"f":1488,"v":0.0005},{"f":1513,"v":0.0018},{"f":1538,"v":0.0024},{"f":1562,"v":0.0016},{"f":1587,"v":0.0022},{"f":1612,"v":0.0032},{"f":1637,"v":0.0018},{"f":1662,"v":0.0012},{"f":1686,"v":0.0018},{"f":1711,"v":0.0014},{"f":1736,"v":0.0017},{"f":1761,"v":0.0008},{"f":1786,"v":0.0016},{"f":1810,"v":0.0012},{"f":1835,"v":0.0005},{"f":1860,"v":0.0013},{"f":1885,"v":0.0008},{"f":1910,"v":0.0016},{"f":1934,"v":0.0024},{"f":1959,"v":0.0012},{"f":1984,"v":0.0007},{"f":2009,"v":0.0016},{"f":2034,"v":0.0012},{"f":2058,"v":0.0005},{"f":2083,"v":0.0017},{"f":2108,"v":0.0013},{"f":2133,"v":0.0019},{"f":2158,"v":0.0012},{"f":2182,"v":0.002},{"f":2207,"v":0.0013},{"f":2232,"v":0.0016},{"f":2257,"v":0.0007},{"f":2282,"v":0.001},{"f":2306,"v":0.0005},{"f":2331,"v":0.0012},{"f":2356,"v":0.0008},{"f":2381,"v":0.0005},{"f":2406,"v":0.0012},{"f":2430,"v":0.0007},{"f":2455,"v":0.0009},{"f":2480,"v":0.0016},{"f":2505,"v":0.0018},{"f":2530,"v":0.0024},{"f":2554,"v":0.0014},{"f":2579,"v":0.0012},{"f":2604,"v":0.0012},{"f":2629,"v":0.001},{"f":2654,"v":0.0008},{"f":2678,"v":0.0009},{"f":2703,"v":0.0017},{"f":2728,"v":0.0012},{"f":2753,"v":0.0016},{"f":2778,"v":0.0006},{"f":2802,"v":0.0017},{"f":2827,"v":0.0009},{"f":2852,"v":0.0017},{"f":2877,"v":0.0003},{"f":2902,"v":0.0018},{"f":2926,"v":0.0009},{"f":2951,"v":0.0016},{"f":2986,"v":0.0012}]
},
"spacing": 41,
"vconcat": [
{"hconcat": [
 {"spacing": 0, "vconcat": [
  {"width": 898, "height": 34, "data": {"values": []}, "mark": "point", "view": {"stroke": null}},
  {"width": 814, "height": 610, "title": {"text": "工作压力为0.1 MPa", "frame": "group", "offset": -15}, "data": {"name": "a1"},
   "layer": [
    {"mark": {"type": "line", "color": "black", "strokeWidth": 5},
     "encoding": {"x": {"field": "f", "type": "quantitative", "scale": {"domain": [0, 3000], "nice": false, "zero": false}, "axis": {"orient": "bottom", "values": [0, 500, 1000, 1500, 2000, 2500, 3000], "format": "d", "labelExpr": "datum.value % 1000 === 0 ? datum.label : ''", "tickSize": {"condition": {"test": "datum.value % 1000 === 0", "value": -26}, "value": -16}, "labelPadding": 44, "labelFlush": false, "labelOverlap": false, "title": "频率/Hz", "titlePadding": 10}},
      "y": {"field": "v", "type": "quantitative", "scale": {"domain": [0, 0.03], "nice": false}, "axis": {"orient": "left", "values": [0, 0.003, 0.006, 0.009, 0.012, 0.015, 0.018, 0.021, 0.024, 0.027, 0.03], "format": ".3f", "labelExpr": "datum.value > 0.0001 && round(datum.value * 1000) % 6 === 0 ? datum.label : ''", "tickSize": {"condition": {"test": "round(datum.value * 1000) % 6 === 0", "value": -26}, "value": -16}, "labelPadding": 54, "labelFlush": false, "labelOverlap": false, "title": "压力振幅(p′/p)", "titlePadding": 32}}}},
    {"mark": {"type": "line", "opacity": 0},
     "encoding": {"x": {"field": "f", "type": "quantitative", "scale": {"domain": [0, 3000], "nice": false, "zero": false}, "axis": {"orient": "top", "values": [0, 500, 1000, 1500, 2000, 2500, 3000], "labels": false, "title": null, "tickSize": {"condition": {"test": "datum.value % 1000 === 0", "value": -26}, "value": -16}}},
      "y": {"field": "v", "type": "quantitative", "scale": {"domain": [0, 0.03], "nice": false}, "axis": {"orient": "right", "values": [0, 0.003, 0.006, 0.009, 0.012, 0.015, 0.018, 0.021, 0.024, 0.027, 0.03], "labels": false, "title": null, "tickSize": {"condition": {"test": "round(datum.value * 1000) % 6 === 0", "value": -26}, "value": -16}}}}}
   ],
   "resolve": {"axis": {"x": "independent", "y": "independent"}}}
 ]},
 {"spacing": 0, "vconcat": [
  {"width": 934, "height": 1, "data": {"values": []}, "mark": "point", "view": {"stroke": null}},
  {"width": 835, "height": 643, "title": {"text": "工作压力为0.2 MPa", "frame": "group", "offset": -15}, "data": {"name": "b1"},
   "layer": [
    {"mark": {"type": "line", "color": "black", "strokeWidth": 5},
     "encoding": {"x": {"field": "f", "type": "quantitative", "scale": {"domain": [0, 3000], "nice": false, "zero": false}, "axis": {"orient": "bottom", "values": [0, 500, 1000, 1500, 2000, 2500, 3000], "format": "d", "labelExpr": "datum.value % 1000 === 0 ? datum.label : ''", "tickSize": {"condition": {"test": "datum.value % 1000 === 0", "value": -26}, "value": -16}, "labelPadding": 44, "labelFlush": false, "labelOverlap": false, "title": "频率/Hz", "titlePadding": 10}},
      "y": {"field": "v", "type": "quantitative", "scale": {"domain": [0, 0.03], "nice": false}, "axis": {"orient": "left", "values": [0, 0.003, 0.006, 0.009, 0.012, 0.015, 0.018, 0.021, 0.024, 0.027, 0.03], "format": ".3f", "labelExpr": "datum.value > 0.0001 && round(datum.value * 1000) % 6 === 0 ? datum.label : ''", "tickSize": {"condition": {"test": "round(datum.value * 1000) % 6 === 0", "value": -26}, "value": -16}, "labelPadding": 54, "labelFlush": false, "labelOverlap": false, "title": "压力振幅(p′/p)", "titlePadding": 32}}}},
    {"mark": {"type": "line", "opacity": 0},
     "encoding": {"x": {"field": "f", "type": "quantitative", "scale": {"domain": [0, 3000], "nice": false, "zero": false}, "axis": {"orient": "top", "values": [0, 500, 1000, 1500, 2000, 2500, 3000], "labels": false, "title": null, "tickSize": {"condition": {"test": "datum.value % 1000 === 0", "value": -26}, "value": -16}}},
      "y": {"field": "v", "type": "quantitative", "scale": {"domain": [0, 0.03], "nice": false}, "axis": {"orient": "right", "values": [0, 0.003, 0.006, 0.009, 0.012, 0.015, 0.018, 0.021, 0.024, 0.027, 0.03], "labels": false, "title": null, "tickSize": {"condition": {"test": "round(datum.value * 1000) % 6 === 0", "value": -26}, "value": -16}}}}}
   ],
   "resolve": {"axis": {"x": "independent", "y": "independent"}}}
 ]},
 {"spacing": 0, "vconcat": [
  {"width": 10, "height": 42, "data": {"values": []}, "mark": "point", "view": {"stroke": null}},
  {"width": 794, "height": 602, "title": {"text": "工作压力为0.3 MPa", "frame": "group", "offset": -15}, "data": {"name": "c1"},
   "layer": [
    {"mark": {"type": "line", "color": "black", "strokeWidth": 5},
     "encoding": {"x": {"field": "f", "type": "quantitative", "scale": {"domain": [0, 3000], "nice": false, "zero": false}, "axis": {"orient": "bottom", "values": [0, 500, 1000, 1500, 2000, 2500, 3000], "format": "d", "labelExpr": "datum.value % 1000 === 0 ? datum.label : ''", "tickSize": {"condition": {"test": "datum.value % 1000 === 0", "value": -26}, "value": -16}, "labelPadding": 44, "labelFlush": false, "labelOverlap": false, "title": "频率/Hz", "titlePadding": 10}},
      "y": {"field": "v", "type": "quantitative", "scale": {"domain": [0, 0.03], "nice": false}, "axis": {"orient": "left", "values": [0, 0.003, 0.006, 0.009, 0.012, 0.015, 0.018, 0.021, 0.024, 0.027, 0.03], "format": ".3f", "labelExpr": "datum.value > 0.0001 && round(datum.value * 1000) % 6 === 0 ? datum.label : ''", "tickSize": {"condition": {"test": "round(datum.value * 1000) % 6 === 0", "value": -26}, "value": -16}, "labelPadding": 54, "labelFlush": false, "labelOverlap": false, "title": "压力振幅(p′/p)", "titlePadding": 32}}}},
    {"mark": {"type": "line", "opacity": 0},
     "encoding": {"x": {"field": "f", "type": "quantitative", "scale": {"domain": [0, 3000], "nice": false, "zero": false}, "axis": {"orient": "top", "values": [0, 500, 1000, 1500, 2000, 2500, 3000], "labels": false, "title": null, "tickSize": {"condition": {"test": "datum.value % 1000 === 0", "value": -26}, "value": -16}}},
      "y": {"field": "v", "type": "quantitative", "scale": {"domain": [0, 0.03], "nice": false}, "axis": {"orient": "right", "values": [0, 0.003, 0.006, 0.009, 0.012, 0.015, 0.018, 0.021, 0.024, 0.027, 0.03], "labels": false, "title": null, "tickSize": {"condition": {"test": "round(datum.value * 1000) % 6 === 0", "value": -26}, "value": -16}}}}}
   ],
   "resolve": {"axis": {"x": "independent", "y": "independent"}}}
 ]}
], "spacing": 55, "title": {"text": "(a) Xₒ₂=23%", "orient": "bottom", "anchor": "middle", "frame": "bounds", "offset": 21, "dx": 110, "fontSize": 58}},
{"hconcat": [
 {"spacing": 0, "vconcat": [
  {"width": 903, "height": 59, "data": {"values": []}, "mark": "point", "view": {"stroke": null}},
  {"width": 814, "height": 598, "data": {"name": "a2"},
   "layer": [
    {"mark": {"type": "line", "color": "black", "strokeWidth": 5},
     "encoding": {"x": {"field": "f", "type": "quantitative", "scale": {"domain": [0, 3000], "nice": false, "zero": false}, "axis": {"orient": "bottom", "values": [0, 500, 1000, 1500, 2000, 2500, 3000], "format": "d", "labelExpr": "datum.value % 1000 === 0 ? datum.label : ''", "tickSize": {"condition": {"test": "datum.value % 1000 === 0", "value": -26}, "value": -16}, "labelPadding": 44, "labelFlush": false, "labelOverlap": false, "title": "频率/Hz", "titlePadding": 10}},
      "y": {"field": "v", "type": "quantitative", "scale": {"domain": [0, 0.03], "nice": false}, "axis": {"orient": "left", "values": [0, 0.003, 0.006, 0.009, 0.012, 0.015, 0.018, 0.021, 0.024, 0.027, 0.03], "format": ".3f", "labelExpr": "datum.value > 0.0001 && round(datum.value * 1000) % 6 === 0 ? datum.label : ''", "tickSize": {"condition": {"test": "round(datum.value * 1000) % 6 === 0", "value": -26}, "value": -16}, "labelPadding": 54, "labelFlush": false, "labelOverlap": false, "title": "压力振幅(p′/p)", "titlePadding": 32}}}},
    {"mark": {"type": "line", "opacity": 0},
     "encoding": {"x": {"field": "f", "type": "quantitative", "scale": {"domain": [0, 3000], "nice": false, "zero": false}, "axis": {"orient": "top", "values": [0, 500, 1000, 1500, 2000, 2500, 3000], "labels": false, "title": null, "tickSize": {"condition": {"test": "datum.value % 1000 === 0", "value": -26}, "value": -16}}},
      "y": {"field": "v", "type": "quantitative", "scale": {"domain": [0, 0.03], "nice": false}, "axis": {"orient": "right", "values": [0, 0.003, 0.006, 0.009, 0.012, 0.015, 0.018, 0.021, 0.024, 0.027, 0.03], "labels": false, "title": null, "tickSize": {"condition": {"test": "round(datum.value * 1000) % 6 === 0", "value": -26}, "value": -16}}}}}
   ],
   "resolve": {"axis": {"x": "independent", "y": "independent"}}}
 ]},
 {"spacing": 0, "vconcat": [
  {"width": 965, "height": 19, "data": {"values": []}, "mark": "point", "view": {"stroke": null}},
  {"width": 847, "height": 638, "data": {"name": "b2"},
   "layer": [
    {"mark": {"type": "line", "color": "black", "strokeWidth": 5},
     "encoding": {"x": {"field": "f", "type": "quantitative", "scale": {"domain": [0, 3000], "nice": false, "zero": false}, "axis": {"orient": "bottom", "values": [0, 500, 1000, 1500, 2000, 2500, 3000], "format": "d", "labelExpr": "datum.value % 1000 === 0 ? datum.label : ''", "tickSize": {"condition": {"test": "datum.value % 1000 === 0", "value": -26}, "value": -16}, "labelPadding": 44, "labelFlush": false, "labelOverlap": false, "title": "频率/Hz", "titlePadding": 10}},
      "y": {"field": "v", "type": "quantitative", "scale": {"domain": [0, 0.03], "nice": false}, "axis": {"orient": "left", "values": [0, 0.003, 0.006, 0.009, 0.012, 0.015, 0.018, 0.021, 0.024, 0.027, 0.03], "format": ".3f", "labelExpr": "datum.value > 0.0001 && round(datum.value * 1000) % 6 === 0 ? datum.label : ''", "tickSize": {"condition": {"test": "round(datum.value * 1000) % 6 === 0", "value": -26}, "value": -16}, "labelPadding": 54, "labelFlush": false, "labelOverlap": false, "title": "压力振幅(p′/p)", "titlePadding": 32}}}},
    {"mark": {"type": "line", "opacity": 0},
     "encoding": {"x": {"field": "f", "type": "quantitative", "scale": {"domain": [0, 3000], "nice": false, "zero": false}, "axis": {"orient": "top", "values": [0, 500, 1000, 1500, 2000, 2500, 3000], "labels": false, "title": null, "tickSize": {"condition": {"test": "datum.value % 1000 === 0", "value": -26}, "value": -16}}},
      "y": {"field": "v", "type": "quantitative", "scale": {"domain": [0, 0.03], "nice": false}, "axis": {"orient": "right", "values": [0, 0.003, 0.006, 0.009, 0.012, 0.015, 0.018, 0.021, 0.024, 0.027, 0.03], "labels": false, "title": null, "tickSize": {"condition": {"test": "round(datum.value * 1000) % 6 === 0", "value": -26}, "value": -16}}}}}
   ],
   "resolve": {"axis": {"x": "independent", "y": "independent"}}}
 ]},
 {"spacing": 0, "vconcat": [
  {"width": 10, "height": 62, "data": {"values": []}, "mark": "point", "view": {"stroke": null}},
  {"width": 801, "height": 595, "data": {"name": "c2"},
   "layer": [
    {"mark": {"type": "line", "color": "black", "strokeWidth": 5},
     "encoding": {"x": {"field": "f", "type": "quantitative", "scale": {"domain": [0, 3000], "nice": false, "zero": false}, "axis": {"orient": "bottom", "values": [0, 500, 1000, 1500, 2000, 2500, 3000], "format": "d", "labelExpr": "datum.value % 1000 === 0 ? datum.label : ''", "tickSize": {"condition": {"test": "datum.value % 1000 === 0", "value": -26}, "value": -16}, "labelPadding": 44, "labelFlush": false, "labelOverlap": false, "title": "频率/Hz", "titlePadding": 10}},
      "y": {"field": "v", "type": "quantitative", "scale": {"domain": [0, 0.1], "nice": false}, "axis": {"orient": "left", "values": [0, 0.01, 0.02, 0.03, 0.04, 0.05, 0.06, 0.07, 0.08, 0.09, 0.1], "format": ".2f", "labelExpr": "datum.value > 0.0001 && round(datum.value * 100) % 2 === 0 ? datum.label : ''", "tickSize": {"condition": {"test": "round(datum.value * 100) % 2 === 0", "value": -26}, "value": -16}, "labelPadding": 54, "labelFlush": false, "labelOverlap": false, "title": "压力振幅(p′/p)", "titlePadding": 32}}}},
    {"mark": {"type": "line", "opacity": 0},
     "encoding": {"x": {"field": "f", "type": "quantitative", "scale": {"domain": [0, 3000], "nice": false, "zero": false}, "axis": {"orient": "top", "values": [0, 500, 1000, 1500, 2000, 2500, 3000], "labels": false, "title": null, "tickSize": {"condition": {"test": "datum.value % 1000 === 0", "value": -26}, "value": -16}}},
      "y": {"field": "v", "type": "quantitative", "scale": {"domain": [0, 0.1], "nice": false}, "axis": {"orient": "right", "values": [0, 0.01, 0.02, 0.03, 0.04, 0.05, 0.06, 0.07, 0.08, 0.09, 0.1], "labels": false, "title": null, "tickSize": {"condition": {"test": "round(datum.value * 100) % 2 === 0", "value": -26}, "value": -16}}}}}
   ],
   "resolve": {"axis": {"x": "independent", "y": "independent"}}}
 ]}
], "spacing": 55, "title": {"text": "(b) Xₒ₂=20%", "orient": "bottom", "anchor": "middle", "frame": "bounds", "offset": 21, "dx": 110, "fontSize": 58}},
{"hconcat": [
 {"spacing": 0, "vconcat": [
  {"width": 898, "height": 39, "data": {"values": []}, "mark": "point", "view": {"stroke": null}},
  {"width": 814, "height": 610, "data": {"name": "a3"},
   "layer": [
    {"mark": {"type": "line", "color": "black", "strokeWidth": 5},
     "encoding": {"x": {"field": "f", "type": "quantitative", "scale": {"domain": [0, 3000], "nice": false, "zero": false}, "axis": {"orient": "bottom", "values": [0, 500, 1000, 1500, 2000, 2500, 3000], "format": "d", "labelExpr": "datum.value % 1000 === 0 ? datum.label : ''", "tickSize": {"condition": {"test": "datum.value % 1000 === 0", "value": -26}, "value": -16}, "labelPadding": 44, "labelFlush": false, "labelOverlap": false, "title": "频率/Hz", "titlePadding": 10}},
      "y": {"field": "v", "type": "quantitative", "scale": {"domain": [0, 0.03], "nice": false}, "axis": {"orient": "left", "values": [0, 0.003, 0.006, 0.009, 0.012, 0.015, 0.018, 0.021, 0.024, 0.027, 0.03], "format": ".3f", "labelExpr": "datum.value > 0.0001 && round(datum.value * 1000) % 6 === 0 ? datum.label : ''", "tickSize": {"condition": {"test": "round(datum.value * 1000) % 6 === 0", "value": -26}, "value": -16}, "labelPadding": 54, "labelFlush": false, "labelOverlap": false, "title": "压力振幅(p′/p)", "titlePadding": 32}}}},
    {"mark": {"type": "line", "opacity": 0},
     "encoding": {"x": {"field": "f", "type": "quantitative", "scale": {"domain": [0, 3000], "nice": false, "zero": false}, "axis": {"orient": "top", "values": [0, 500, 1000, 1500, 2000, 2500, 3000], "labels": false, "title": null, "tickSize": {"condition": {"test": "datum.value % 1000 === 0", "value": -26}, "value": -16}}},
      "y": {"field": "v", "type": "quantitative", "scale": {"domain": [0, 0.03], "nice": false}, "axis": {"orient": "right", "values": [0, 0.003, 0.006, 0.009, 0.012, 0.015, 0.018, 0.021, 0.024, 0.027, 0.03], "labels": false, "title": null, "tickSize": {"condition": {"test": "round(datum.value * 1000) % 6 === 0", "value": -26}, "value": -16}}}}}
   ],
   "resolve": {"axis": {"x": "independent", "y": "independent"}}}
 ]},
 {"spacing": 0, "vconcat": [
  {"width": 939, "height": 4, "data": {"values": []}, "mark": "point", "view": {"stroke": null}},
  {"width": 837, "height": 645, "data": {"name": "b3"},
   "layer": [
    {"mark": {"type": "line", "color": "black", "strokeWidth": 5},
     "encoding": {"x": {"field": "f", "type": "quantitative", "scale": {"domain": [0, 3000], "nice": false, "zero": false}, "axis": {"orient": "bottom", "values": [0, 500, 1000, 1500, 2000, 2500, 3000], "format": "d", "labelExpr": "datum.value % 1000 === 0 ? datum.label : ''", "tickSize": {"condition": {"test": "datum.value % 1000 === 0", "value": -26}, "value": -16}, "labelPadding": 44, "labelFlush": false, "labelOverlap": false, "title": "频率/Hz", "titlePadding": 10}},
      "y": {"field": "v", "type": "quantitative", "scale": {"domain": [0, 0.03], "nice": false}, "axis": {"orient": "left", "values": [0, 0.003, 0.006, 0.009, 0.012, 0.015, 0.018, 0.021, 0.024, 0.027, 0.03], "format": ".3f", "labelExpr": "datum.value > 0.0001 && round(datum.value * 1000) % 6 === 0 ? datum.label : ''", "tickSize": {"condition": {"test": "round(datum.value * 1000) % 6 === 0", "value": -26}, "value": -16}, "labelPadding": 54, "labelFlush": false, "labelOverlap": false, "title": "压力振幅(p′/p)", "titlePadding": 32}}}},
    {"mark": {"type": "line", "opacity": 0},
     "encoding": {"x": {"field": "f", "type": "quantitative", "scale": {"domain": [0, 3000], "nice": false, "zero": false}, "axis": {"orient": "top", "values": [0, 500, 1000, 1500, 2000, 2500, 3000], "labels": false, "title": null, "tickSize": {"condition": {"test": "datum.value % 1000 === 0", "value": -26}, "value": -16}}},
      "y": {"field": "v", "type": "quantitative", "scale": {"domain": [0, 0.03], "nice": false}, "axis": {"orient": "right", "values": [0, 0.003, 0.006, 0.009, 0.012, 0.015, 0.018, 0.021, 0.024, 0.027, 0.03], "labels": false, "title": null, "tickSize": {"condition": {"test": "round(datum.value * 1000) % 6 === 0", "value": -26}, "value": -16}}}}}
   ],
   "resolve": {"axis": {"x": "independent", "y": "independent"}}}
 ]},
 {"spacing": 0, "vconcat": [
  {"width": 10, "height": 54, "data": {"values": []}, "mark": "point", "view": {"stroke": null}},
  {"width": 801, "height": 595, "data": {"name": "c3"},
   "layer": [
    {"mark": {"type": "line", "color": "black", "strokeWidth": 5},
     "encoding": {"x": {"field": "f", "type": "quantitative", "scale": {"domain": [0, 3000], "nice": false, "zero": false}, "axis": {"orient": "bottom", "values": [0, 500, 1000, 1500, 2000, 2500, 3000], "format": "d", "labelExpr": "datum.value % 1000 === 0 ? datum.label : ''", "tickSize": {"condition": {"test": "datum.value % 1000 === 0", "value": -26}, "value": -16}, "labelPadding": 44, "labelFlush": false, "labelOverlap": false, "title": "频率/Hz", "titlePadding": 10}},
      "y": {"field": "v", "type": "quantitative", "scale": {"domain": [0, 0.03], "nice": false}, "axis": {"orient": "left", "values": [0, 0.003, 0.006, 0.009, 0.012, 0.015, 0.018, 0.021, 0.024, 0.027, 0.03], "format": ".3f", "labelExpr": "datum.value > 0.0001 && round(datum.value * 1000) % 6 === 0 ? datum.label : ''", "tickSize": {"condition": {"test": "round(datum.value * 1000) % 6 === 0", "value": -26}, "value": -16}, "labelPadding": 54, "labelFlush": false, "labelOverlap": false, "title": "压力振幅(p′/p)", "titlePadding": 32}}}},
    {"mark": {"type": "line", "opacity": 0},
     "encoding": {"x": {"field": "f", "type": "quantitative", "scale": {"domain": [0, 3000], "nice": false, "zero": false}, "axis": {"orient": "top", "values": [0, 500, 1000, 1500, 2000, 2500, 3000], "labels": false, "title": null, "tickSize": {"condition": {"test": "datum.value % 1000 === 0", "value": -26}, "value": -16}}},
      "y": {"field": "v", "type": "quantitative", "scale": {"domain": [0, 0.03], "nice": false}, "axis": {"orient": "right", "values": [0, 0.003, 0.006, 0.009, 0.012, 0.015, 0.018, 0.021, 0.024, 0.027, 0.03], "labels": false, "title": null, "tickSize": {"condition": {"test": "round(datum.value * 1000) % 6 === 0", "value": -26}, "value": -16}}}}}
   ],
   "resolve": {"axis": {"x": "independent", "y": "independent"}}}
 ]}
], "spacing": 55, "title": {"text": "(c) Xₒ₂=17%", "orient": "bottom", "anchor": "middle", "frame": "bounds", "offset": 21, "dx": 110, "fontSize": 58}},
{"hconcat": [
 {"spacing": 0, "vconcat": [
  {"width": 895, "height": 34, "data": {"values": []}, "mark": "point", "view": {"stroke": null}},
  {"width": 826, "height": 615, "data": {"name": "a4"},
   "layer": [
    {"mark": {"type": "line", "color": "black", "strokeWidth": 5},
     "encoding": {"x": {"field": "f", "type": "quantitative", "scale": {"domain": [0, 3000], "nice": false, "zero": false}, "axis": {"orient": "bottom", "values": [0, 500, 1000, 1500, 2000, 2500, 3000], "format": "d", "labelExpr": "datum.value % 1000 === 0 ? datum.label : ''", "tickSize": {"condition": {"test": "datum.value % 1000 === 0", "value": -26}, "value": -16}, "labelPadding": 44, "labelFlush": false, "labelOverlap": false, "title": "频率/Hz", "titlePadding": 10}},
      "y": {"field": "v", "type": "quantitative", "scale": {"domain": [0, 0.03], "nice": false}, "axis": {"orient": "left", "values": [0, 0.003, 0.006, 0.009, 0.012, 0.015, 0.018, 0.021, 0.024, 0.027, 0.03], "format": ".3f", "labelExpr": "datum.value > 0.0001 && round(datum.value * 1000) % 6 === 0 ? datum.label : ''", "tickSize": {"condition": {"test": "round(datum.value * 1000) % 6 === 0", "value": -26}, "value": -16}, "labelPadding": 54, "labelFlush": false, "labelOverlap": false, "title": "压力振幅(p′/p)", "titlePadding": 32}}}},
    {"mark": {"type": "line", "opacity": 0},
     "encoding": {"x": {"field": "f", "type": "quantitative", "scale": {"domain": [0, 3000], "nice": false, "zero": false}, "axis": {"orient": "top", "values": [0, 500, 1000, 1500, 2000, 2500, 3000], "labels": false, "title": null, "tickSize": {"condition": {"test": "datum.value % 1000 === 0", "value": -26}, "value": -16}}},
      "y": {"field": "v", "type": "quantitative", "scale": {"domain": [0, 0.03], "nice": false}, "axis": {"orient": "right", "values": [0, 0.003, 0.006, 0.009, 0.012, 0.015, 0.018, 0.021, 0.024, 0.027, 0.03], "labels": false, "title": null, "tickSize": {"condition": {"test": "round(datum.value * 1000) % 6 === 0", "value": -26}, "value": -16}}}}}
   ],
   "resolve": {"axis": {"x": "independent", "y": "independent"}}}
 ]},
 {"spacing": 0, "vconcat": [
  {"width": 942, "height": 9, "data": {"values": []}, "mark": "point", "view": {"stroke": null}},
  {"width": 835, "height": 640, "data": {"name": "b4"},
   "layer": [
    {"mark": {"type": "line", "color": "black", "strokeWidth": 5},
     "encoding": {"x": {"field": "f", "type": "quantitative", "scale": {"domain": [0, 3000], "nice": false, "zero": false}, "axis": {"orient": "bottom", "values": [0, 500, 1000, 1500, 2000, 2500, 3000], "format": "d", "labelExpr": "datum.value % 1000 === 0 ? datum.label : ''", "tickSize": {"condition": {"test": "datum.value % 1000 === 0", "value": -26}, "value": -16}, "labelPadding": 44, "labelFlush": false, "labelOverlap": false, "title": "频率/Hz", "titlePadding": 10}},
      "y": {"field": "v", "type": "quantitative", "scale": {"domain": [0, 0.03], "nice": false}, "axis": {"orient": "left", "values": [0, 0.003, 0.006, 0.009, 0.012, 0.015, 0.018, 0.021, 0.024, 0.027, 0.03], "format": ".3f", "labelExpr": "datum.value > 0.0001 && round(datum.value * 1000) % 6 === 0 ? datum.label : ''", "tickSize": {"condition": {"test": "round(datum.value * 1000) % 6 === 0", "value": -26}, "value": -16}, "labelPadding": 54, "labelFlush": false, "labelOverlap": false, "title": "压力振幅(p′/p)", "titlePadding": 32}}}},
    {"mark": {"type": "line", "opacity": 0},
     "encoding": {"x": {"field": "f", "type": "quantitative", "scale": {"domain": [0, 3000], "nice": false, "zero": false}, "axis": {"orient": "top", "values": [0, 500, 1000, 1500, 2000, 2500, 3000], "labels": false, "title": null, "tickSize": {"condition": {"test": "datum.value % 1000 === 0", "value": -26}, "value": -16}}},
      "y": {"field": "v", "type": "quantitative", "scale": {"domain": [0, 0.03], "nice": false}, "axis": {"orient": "right", "values": [0, 0.003, 0.006, 0.009, 0.012, 0.015, 0.018, 0.021, 0.024, 0.027, 0.03], "labels": false, "title": null, "tickSize": {"condition": {"test": "round(datum.value * 1000) % 6 === 0", "value": -26}, "value": -16}}}}}
   ],
   "resolve": {"axis": {"x": "independent", "y": "independent"}}}
 ]},
 {"spacing": 0, "vconcat": [
  {"width": 10, "height": 54, "data": {"values": []}, "mark": "point", "view": {"stroke": null}},
  {"width": 811, "height": 595, "data": {"name": "c4"},
   "layer": [
    {"mark": {"type": "line", "color": "black", "strokeWidth": 5},
     "encoding": {"x": {"field": "f", "type": "quantitative", "scale": {"domain": [0, 3000], "nice": false, "zero": false}, "axis": {"orient": "bottom", "values": [0, 500, 1000, 1500, 2000, 2500, 3000], "format": "d", "labelExpr": "datum.value % 1000 === 0 ? datum.label : ''", "tickSize": {"condition": {"test": "datum.value % 1000 === 0", "value": -26}, "value": -16}, "labelPadding": 44, "labelFlush": false, "labelOverlap": false, "title": "频率/Hz", "titlePadding": 10}},
      "y": {"field": "v", "type": "quantitative", "scale": {"domain": [0, 0.03], "nice": false}, "axis": {"orient": "left", "values": [0, 0.003, 0.006, 0.009, 0.012, 0.015, 0.018, 0.021, 0.024, 0.027, 0.03], "format": ".3f", "labelExpr": "datum.value > 0.0001 && round(datum.value * 1000) % 6 === 0 ? datum.label : ''", "tickSize": {"condition": {"test": "round(datum.value * 1000) % 6 === 0", "value": -26}, "value": -16}, "labelPadding": 54, "labelFlush": false, "labelOverlap": false, "title": "压力振幅(p′/p)", "titlePadding": 32}}}},
    {"mark": {"type": "line", "opacity": 0},
     "encoding": {"x": {"field": "f", "type": "quantitative", "scale": {"domain": [0, 3000], "nice": false, "zero": false}, "axis": {"orient": "top", "values": [0, 500, 1000, 1500, 2000, 2500, 3000], "labels": false, "title": null, "tickSize": {"condition": {"test": "datum.value % 1000 === 0", "value": -26}, "value": -16}}},
      "y": {"field": "v", "type": "quantitative", "scale": {"domain": [0, 0.03], "nice": false}, "axis": {"orient": "right", "values": [0, 0.003, 0.006, 0.009, 0.012, 0.015, 0.018, 0.021, 0.024, 0.027, 0.03], "labels": false, "title": null, "tickSize": {"condition": {"test": "round(datum.value * 1000) % 6 === 0", "value": -26}, "value": -16}}}}}
   ],
   "resolve": {"axis": {"x": "independent", "y": "independent"}}}
 ]}
], "spacing": 55, "title": {"text": "(d) Xₒ₂=14%", "orient": "bottom", "anchor": "middle", "frame": "bounds", "offset": 31, "dx": 110, "fontSize": 58}}
],
"config": {
 "view": {"stroke": "black", "strokeWidth": 4.5},
 "axis": {"labelFont": "Liberation Serif", "labelFontSize": 66, "labelColor": "black", "titleFont": "Liberation Serif, Noto Sans CJK SC", "titleFontSize": 66, "titleFontWeight": "normal", "titleColor": "black", "domain": false, "grid": false, "tickColor": "black", "tickWidth": 4},
 "title": {"font": "Liberation Serif, Noto Sans CJK SC", "fontSize": 68, "fontWeight": "normal", "color": "black"}
}
}
